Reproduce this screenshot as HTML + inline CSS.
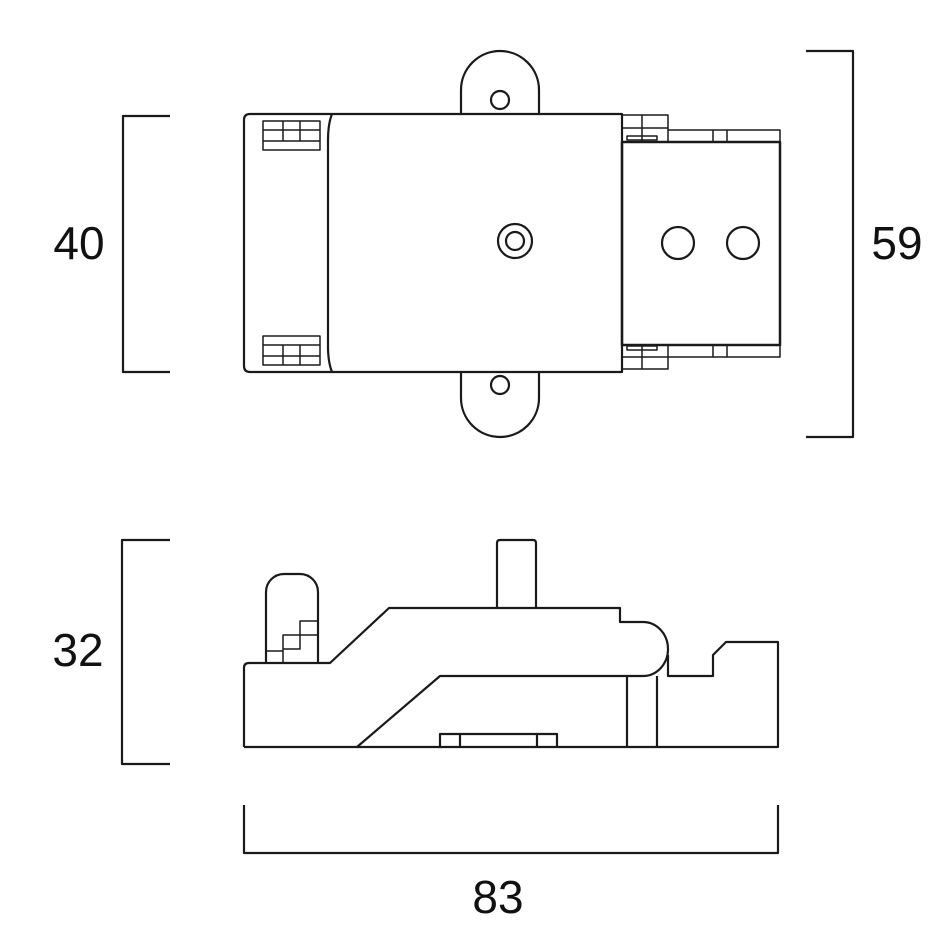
<!DOCTYPE html>
<html><head><meta charset="utf-8"><style>html,body{margin:0;padding:0;background:#fff}svg{display:block}</style></head>
<body>
<svg width="946" height="946" viewBox="0 0 946 946" xmlns="http://www.w3.org/2000/svg">
<g fill="none" stroke="#1a1a1a" stroke-width="2.2" stroke-linejoin="round">
<!-- dimension brackets -->
<path d="M170 116 H123 V372 H170"/>
<path d="M806 51 H853 V437 H806"/>
<path d="M170 540 H122 V764 H170"/>
<path d="M244 805 V853 H778 V805"/>
<!-- top view ears -->
<path d="M461 114 V90 A39 39 0 0 1 539 90 V114"/>
<circle cx="500" cy="100" r="9"/>
<path d="M461 372 V398 A39 39 0 0 0 539 398 V372"/>
<circle cx="500" cy="385" r="9"/>
<!-- left body -->
<path d="M250 114 H332 Q328 124 328 140 V346 Q328 362 332 372 H250 Q244 372 244 366 V120 Q244 114 250 114 Z"/>
<path d="M332 114 H622 V372 H332"/>
<!-- connectors -->
<g stroke-width="1.5">
<path d="M263 121 H320 V150 H263 Z M263 130 H320 M263 141 H320 M283 121 V141 M300 121 V141"/>
<path d="M263 365 H320 V336 H263 Z M263 356 H320 M263 345 H320 M283 365 V345 M300 365 V345"/>
</g>
<circle cx="515" cy="241" r="17"/>
<circle cx="515" cy="241" r="9"/>
<!-- right part -->
<rect x="622" y="142" width="158" height="203" stroke-width="2.5"/>
<g stroke-width="1.5">
<path d="M621 115 H668 V142 M642 115 V142 M621 128 H668"/>
<path d="M668 130 H780 V142 M713 130 V142 M727 130 V142"/>
<rect x="627" y="136" width="30" height="4"/>
<path d="M621 369 H668 V345 M642 369 V345 M621 357 H668"/>
<path d="M668 357 H780 V345 M713 357 V345 M727 357 V345"/>
<rect x="627" y="346" width="30" height="4"/>
</g>
<circle cx="678" cy="243" r="16"/>
<circle cx="743" cy="243" r="16"/>
<!-- side view -->
<path d="M244 747 V668 Q244 663 249 663 H330 L389 608 H620 V622 H643 A25 27 0 0 1 643 676 H440 L357 747"/>
<path d="M244 747 H778 V642 H726 L713 655 V676 H668 V655"/>
<path d="M627 676 V747 M657 676 V747"/>
<path d="M440 747 V734 H557 V747 M460 734 V747 M537 734 V747"/>
<path d="M497 608 V543 Q497 540 500 540 H533 Q536 540 536 543 V608"/>
<path d="M266 663 V592 A18 18 0 0 1 284 574 H300 A18 18 0 0 1 318 592 V663"/>
<path d="M266 651 H283 M283 663 V635 H300 V649 H283 M300 635 V621 H318 M300 635 H318" stroke-width="1.5"/>
</g>
<g font-family="Liberation Sans, sans-serif" font-size="46" fill="#111" text-anchor="middle">
<text x="79" y="259">40</text>
<text x="897" y="259">59</text>
<text x="78" y="666">32</text>
<text x="498" y="913">83</text>
</g>
</svg>
</body></html>
